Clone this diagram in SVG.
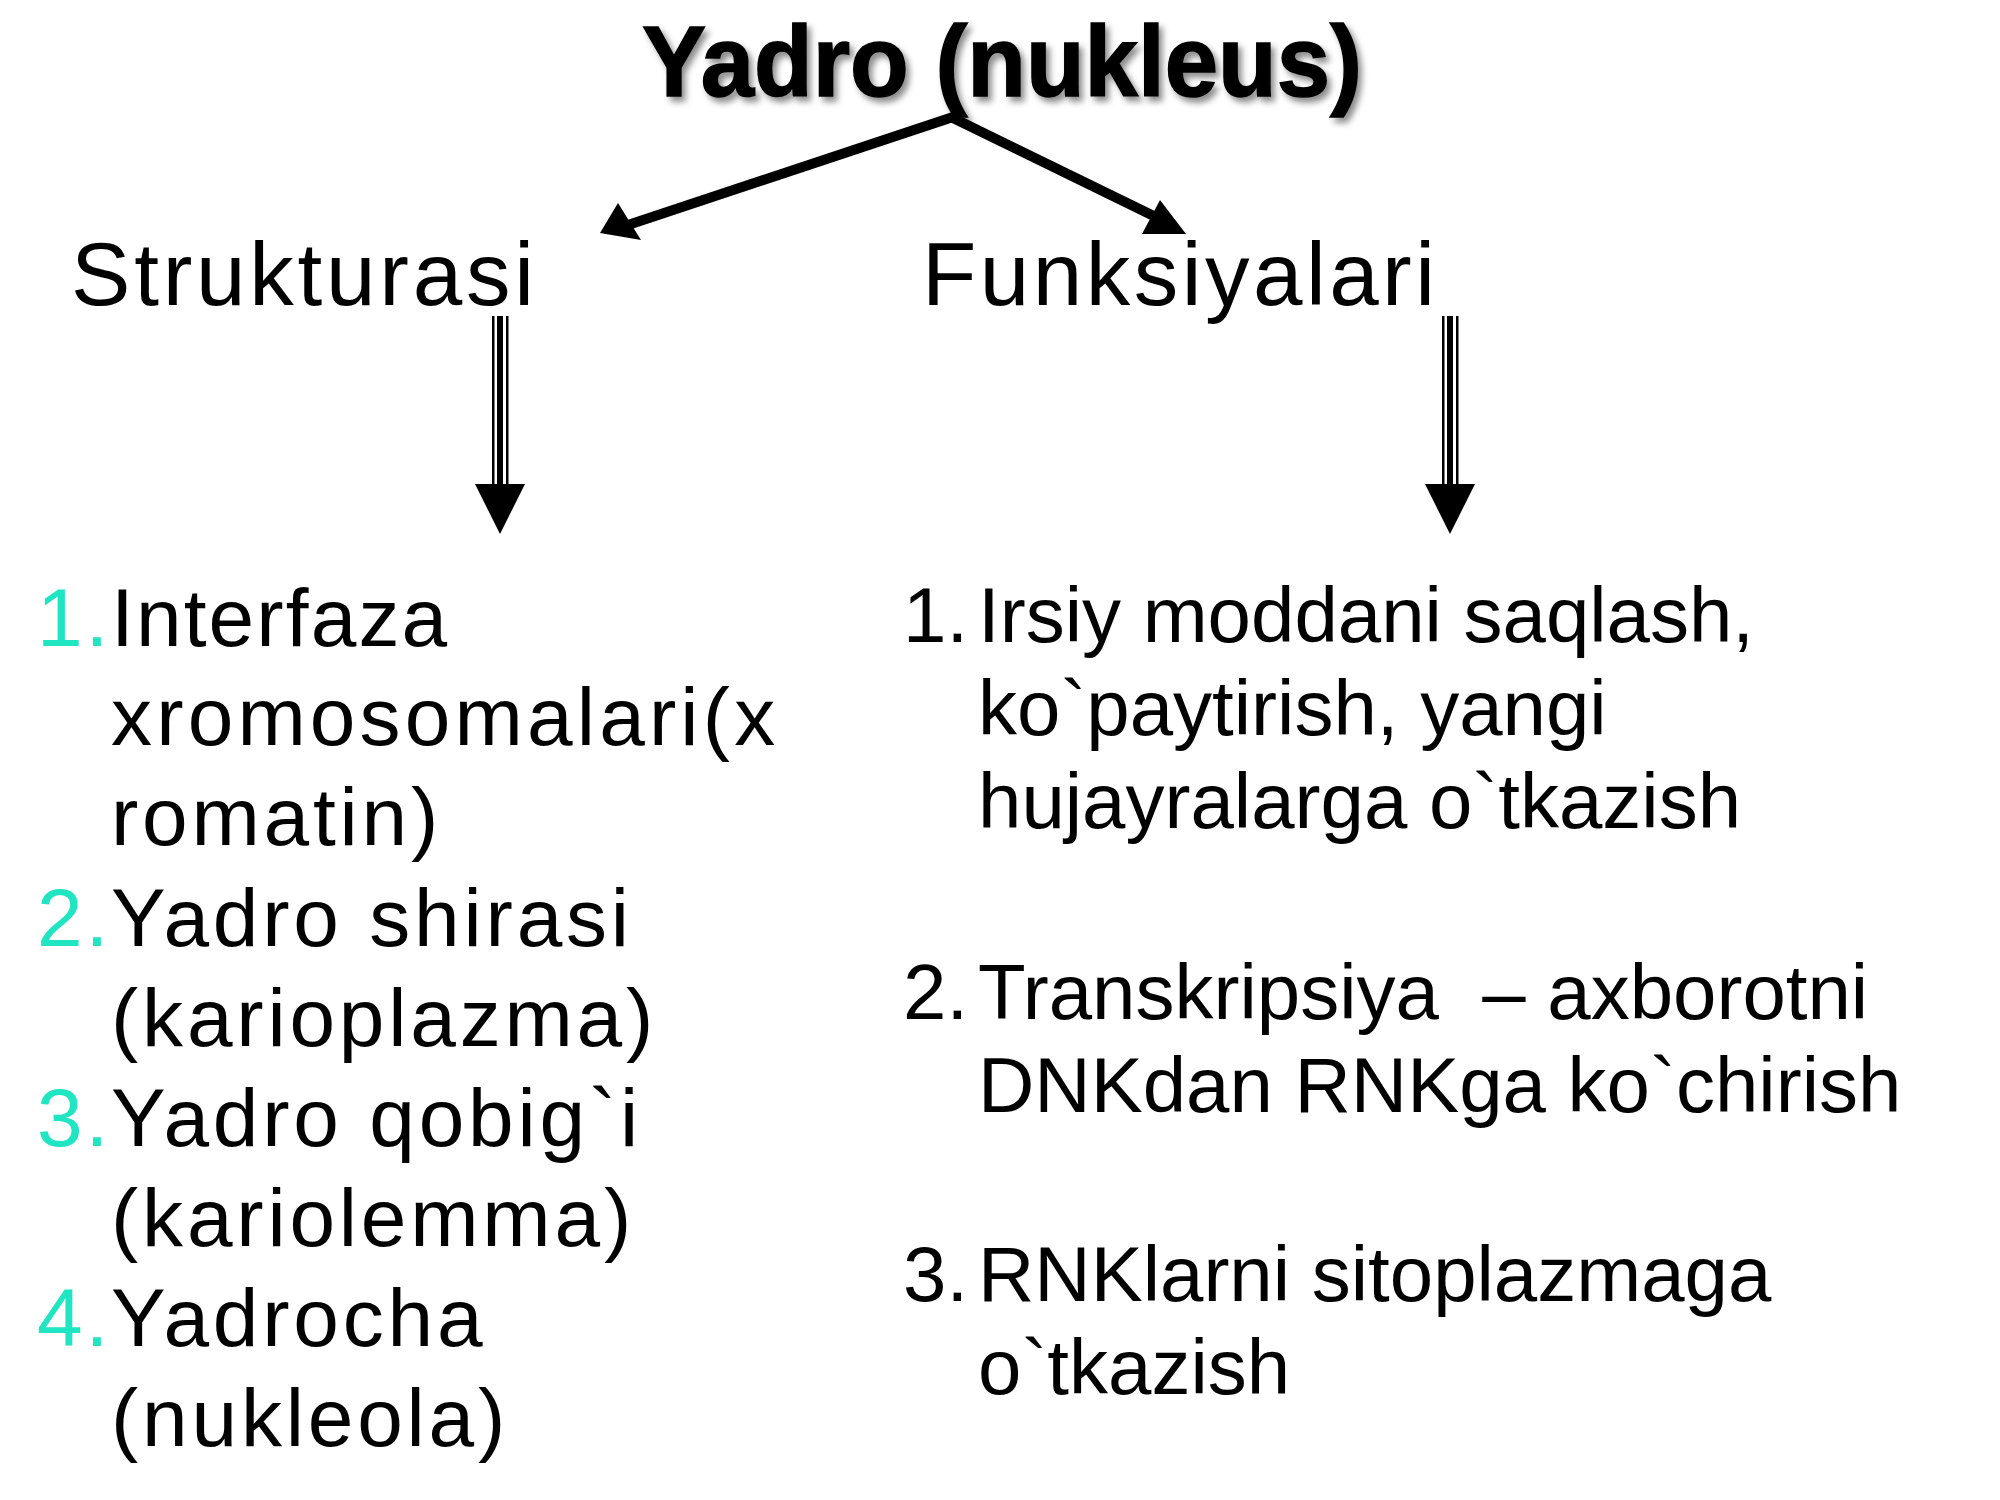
<svg xmlns="http://www.w3.org/2000/svg" width="2000" height="1500" viewBox="0 0 2000 1500">
<style>
  .t{font-family:"Liberation Sans",Arial,sans-serif;fill:#000}
  .title{font-weight:bold;font-size:100px}
  .head{font-size:89px}
  .left{font-size:82px;letter-spacing:3.8px}
  .right{font-size:78px}
  .num{fill:#1FE5C3}
  .ln{stroke:#000;stroke-width:10;fill:none}
</style>
<defs>
  <filter id="sh" x="-10%" y="-30%" width="120%" height="160%">
    <feDropShadow dx="4" dy="5" stdDeviation="3" flood-color="#000" flood-opacity="0.45"/>
  </filter>
</defs>
<rect width="2000" height="1500" fill="#fff"/>

<g id="title">
  <text class="t title" x="642" y="96" textLength="720" lengthAdjust="spacingAndGlyphs" filter="url(#sh)" stroke="#000" stroke-width="1.5">Yadro (nukleus)</text>
</g>

<g id="strukturasi">
  <text class="t head" x="71" y="305" textLength="463" lengthAdjust="spacing">Strukturasi</text>
</g>
<g id="funksiyalari">
  <text class="t head" x="922" y="305" textLength="513" lengthAdjust="spacing">Funksiyalari</text>
</g>

<g id="connectors">
  <line class="ln" x1="953" y1="117" x2="625" y2="226"/>
  <polygon points="600,233 618,203 641,240" fill="#000"/>
  <line class="ln" x1="951" y1="117" x2="1164" y2="221"/>
  <polygon points="1160,200 1142,234 1186,234" fill="#000"/>

  <g id="down-left">
    <rect x="492" y="316" width="2.5" height="170" fill="#000"/>
    <rect x="497" y="316" width="6" height="170" fill="#000"/>
    <rect x="506" y="316" width="2.5" height="170" fill="#000"/>
    <polygon points="475,484 525,484 500,534" fill="#000"/>
  </g>
  <g id="down-right">
    <rect x="1442" y="316" width="2.5" height="170" fill="#000"/>
    <rect x="1447" y="316" width="6" height="170" fill="#000"/>
    <rect x="1456" y="316" width="2.5" height="170" fill="#000"/>
    <polygon points="1425,484 1475,484 1450,534" fill="#000"/>
  </g>
</g>

<g id="structure-list">
  <text class="t left num" x="37" y="646" style="letter-spacing:3px">1.</text>
  <text class="t left" x="111" y="646" textLength="340" lengthAdjust="spacing">Interfaza</text>
  <text class="t left" x="111" y="745" textLength="668" lengthAdjust="spacing">xromosomalari(x</text>
  <text class="t left" x="111" y="845">romatin)</text>
  <text class="t left num" x="37" y="946" style="letter-spacing:3px">2.</text>
  <text class="t left" x="111" y="946">Yadro shirasi</text>
  <text class="t left" x="111" y="1046">(karioplazma)</text>
  <text class="t left num" x="37" y="1146" style="letter-spacing:3px">3.</text>
  <text class="t left" x="111" y="1146">Yadro qobig`i</text>
  <text class="t left" x="111" y="1246">(kariolemma)</text>
  <text class="t left num" x="37" y="1346" style="letter-spacing:3px">4.</text>
  <text class="t left" x="111" y="1346">Yadrocha</text>
  <text class="t left" x="111" y="1446">(nukleola)</text>
</g>

<g id="function-list">
  <text class="t right" x="903" y="642">1.</text>
  <text class="t right" x="978" y="642">Irsiy moddani saqlash,</text>
  <text class="t right" x="978" y="735">ko`paytirish, yangi</text>
  <text class="t right" x="978" y="828">hujayralarga o`tkazish</text>
  <text class="t right" x="903" y="1019">2.</text>
  <text class="t right" x="978" y="1019" style="white-space:pre">Transkripsiya  – axborotni</text>
  <text class="t right" x="978" y="1112">DNKdan RNKga ko`chirish</text>
  <text class="t right" x="903" y="1301">3.</text>
  <text class="t right" x="978" y="1301">RNKlarni sitoplazmaga</text>
  <text class="t right" x="978" y="1394">o`tkazish</text>
</g>
</svg>
